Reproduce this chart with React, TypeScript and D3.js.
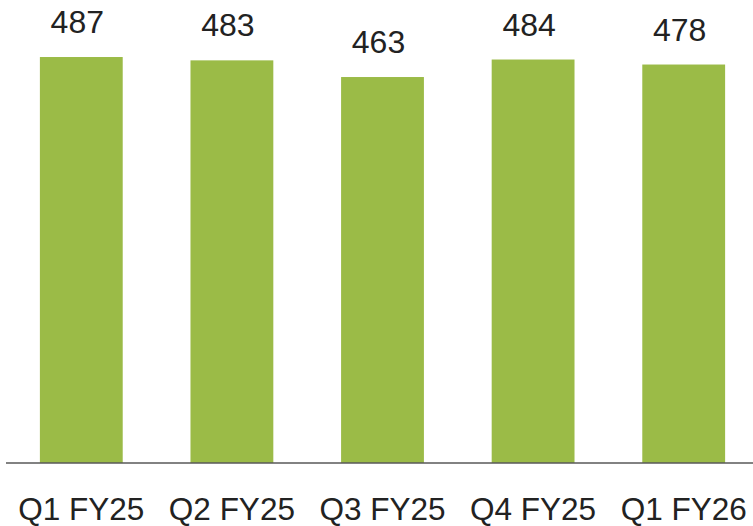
import React from "react";
import * as d3 from "d3";

const categories = ["Q1 FY25", "Q2 FY25", "Q3 FY25", "Q4 FY25", "Q1 FY26"];
const values = [487, 483, 463, 484, 478];

const W = 753;
const H = 526;
const baseY = 463;

export default function App() {
  const x = d3
    .scaleBand<string>()
    .domain(categories)
    .range([6, 759])
    .paddingInner(0.45)
    .paddingOuter(0.225);
  const y = d3.scaleLinear().domain([0, 555.4]).range([baseY, 0]);
  const font = "'Liberation Sans', Arial, sans-serif";
  return (
    <svg
      width={W}
      height={H}
      style={{ position: "absolute", left: 0, top: 0, background: "#fff" }}
    >
      {categories.map((c, i) => (
        <g key={c}>
          <rect
            x={x(c)!}
            y={y(values[i])}
            width={x.bandwidth()}
            height={baseY - y(values[i])}
            fill="#9BBB47"
          />
          <text
            x={x(c)! + x.bandwidth() / 2 - 4}
            y={y(values[i]) - 24}
            textAnchor="middle"
            fontFamily={font}
            fontSize={32}
            fill="#222"
          >
            {values[i]}
          </text>
          <text
            x={x(c)! + x.bandwidth() / 2}
            y={520}
            textAnchor="middle"
            fontFamily={font}
            fontSize={31.5}
            fill="#222"
          >
            {c}
          </text>
        </g>
      ))}
      <line x1={6} x2={753} y1={baseY} y2={baseY} stroke="#595959" strokeWidth={1.5} />
    </svg>
  );
}
